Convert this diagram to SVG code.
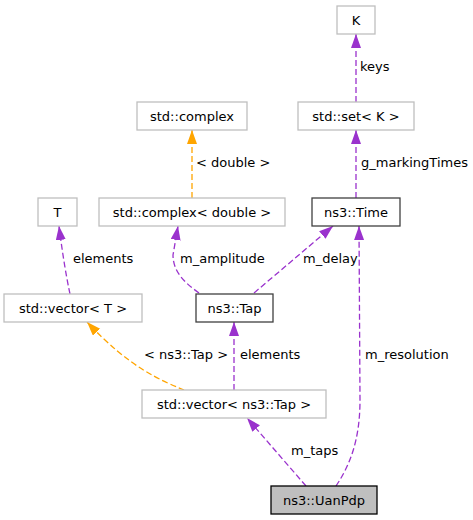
<svg xmlns="http://www.w3.org/2000/svg" width="473" height="520" viewBox="0 0 473 520">
<style>
text{font-family:"DejaVu Sans","Liberation Sans",sans-serif;font-size:13px;fill:#000}
.n{text-anchor:middle}
.box{fill:#fff;stroke:#bfbfbf;stroke-width:1.3}
.dark{fill:#fff;stroke:#404040;stroke-width:1.3}
.main{fill:#bfbfbf;stroke:#000;stroke-width:1.3}
.u{fill:none;stroke:#9a32cd;stroke-width:1.3;stroke-dasharray:6,3;marker-end:url(#ap)}
.t{fill:none;stroke:#ffa500;stroke-width:1.3;stroke-dasharray:6,3;marker-end:url(#ao)}
</style>
<defs>
<marker id="ap" markerUnits="userSpaceOnUse" markerWidth="15" markerHeight="11" refX="14" refY="5" orient="auto"><path d="M0,0 L14,5 L0,10 z" fill="#9a32cd"/></marker>
<marker id="ao" markerUnits="userSpaceOnUse" markerWidth="15" markerHeight="11" refX="14" refY="5" orient="auto"><path d="M0,0 L14,5 L0,10 z" fill="#ffa500"/></marker>
</defs>
<rect width="473" height="520" fill="#fff"/>
<g id="connectors">
<path class="u" d="M356,102 L356,34"/>
<path class="u" d="M356,198 L356,130"/>
<path class="t" d="M192,198 L192,130"/>
<path class="u" d="M70,294 C67,280 63,258 59,226"/>
<path class="u" d="M199,293 C185,283 173,272 173,255 L178,226"/>
<path class="u" d="M254,293 L333,226"/>
<path class="u" d="M336,486 C350,465 360,440 360,400 L359,226"/>
<path class="u" d="M306,486 L247,418"/>
<path class="u" d="M234,390 L234,322"/>
<path class="t" d="M184,390 C160,380 130,368 87,322"/>
<text x="360" y="71">keys</text>
<text x="196" y="167">&lt; double &gt;</text>
<text x="361" y="167">g_markingTimes</text>
<text x="73" y="263">elements</text>
<text x="180" y="263">m_amplitude</text>
<text x="303" y="263">m_delay</text>
<text x="144" y="359">&lt; ns3::Tap &gt;</text>
<text x="240" y="359">elements</text>
<text x="365" y="359">m_resolution</text>
<text x="291" y="455">m_taps</text>
</g>
<g id="K"><rect class="box" x="337" y="6" width="38" height="28"/><text class="n" x="356" y="24.5">K</text></g>
<g id="set"><rect class="box" x="298" y="102" width="116" height="28"/><text class="n" x="356" y="120.5">std::set&lt; K &gt;</text></g>
<g id="complex"><rect class="box" x="137" y="102" width="110" height="28"/><text class="n" x="192" y="120.5">std::complex</text></g>
<g id="T"><rect class="box" x="38" y="198" width="39" height="28"/><text class="n" x="57.5" y="216.5">T</text></g>
<g id="complexdouble"><rect class="box" x="99" y="198" width="186" height="28"/><text class="n" x="192" y="216.5">std::complex&lt; double &gt;</text></g>
<g id="Time"><rect class="dark" x="312" y="198" width="88" height="28"/><text class="n" x="356" y="216.5">ns3::Time</text></g>
<g id="vectorT"><rect class="box" x="4" y="294" width="138" height="28"/><text class="n" x="73" y="312.5">std::vector&lt; T &gt;</text></g>
<g id="Tap"><rect class="dark" x="196" y="294" width="77" height="28"/><text class="n" x="234.5" y="312.5">ns3::Tap</text></g>
<g id="vectorTap"><rect class="box" x="142" y="390" width="184" height="28"/><text class="n" x="234" y="408.5">std::vector&lt; ns3::Tap &gt;</text></g>
<g id="UanPdp"><rect class="main" x="271" y="486" width="106" height="28"/><text class="n" x="324" y="504.5">ns3::UanPdp</text></g>
</svg>
